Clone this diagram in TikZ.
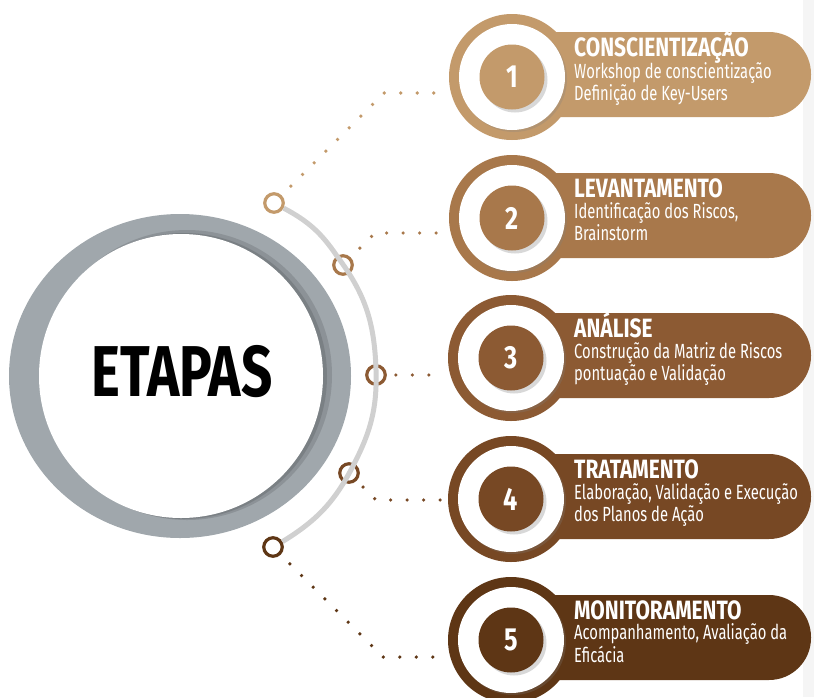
\documentclass[tikz,border=0pt]{standalone}
\usepackage{fontspec}
\setmainfont{Fira Sans}
\newfontfamily\etapasfont[FakeStretch=0.76]{Fira Sans}
\newfontfamily\titlefont[FakeStretch=0.79]{Fira Sans}
\newfontfamily\descfont[FakeStretch=0.72]{Fira Sans}
\usetikzlibrary{positioning,shadows}
\definecolor{etapaA}{HTML}{C39A6B}
\definecolor{etapaB}{HTML}{A8784B}
\definecolor{etapaC}{HTML}{8C5A33}
\definecolor{etapaD}{HTML}{774824}
\definecolor{etapaE}{HTML}{5E3615}
\definecolor{anel}{HTML}{A0A7AC}
\definecolor{trilho}{HTML}{D0D0D0}
\begin{document}
\begin{tikzpicture}[x=1pt, y=-1pt,
    outer/.style = {circle, minimum size=126pt, inner sep=0pt},
    ring/.style = {circle, fill=white, minimum size=106pt, inner sep=0pt, drop shadow={shadow xshift=2pt, shadow yshift=-2pt, opacity=0.25}},
    num/.style = {circle, minimum size=65pt, inner sep=0pt, text=white, font=\titlefont\bfseries\fontsize{32}{32}\selectfont, drop shadow={shadow xshift=3pt, shadow yshift=-3pt, opacity=0.3}},
    knot/.style = {circle, fill=white, line width=3.2pt, minimum size=18.5pt, inner sep=0pt},
    dots/.style = {line width=3.6pt, line cap=round, dash pattern=on 0pt off 16.5pt, shorten <=13pt},
    title/.style = {anchor=base west, inner sep=0pt, text=white, font=\titlefont\bfseries\fontsize{26.5}{26.5}\selectfont},
    desc/.style = {anchor=base west, inner sep=0pt, text=white, align=left, font=\descfont\fontsize{20.5}{20}\selectfont}]
    \useasboundingbox (0,0) rectangle (814,697);
    \fill[black!4] (803,0) rectangle (814,697);

    % grande circulo
    \fill[anel] (180,376) ellipse [x radius=171, y radius=162];
    \fill[black, opacity=0.12] (187,375) circle [radius=145];
    \fill[black, opacity=0.12] (184,376) circle [radius=143];
    \node[circle, fill=white, minimum size=284pt, inner sep=0pt] (centro) at (181,376) {};
    \node[font=\etapasfont\bfseries\fontsize{72}{72}\selectfont] (etapas) at (182,372) {ETAPAS};

    % trilho
    \node[knot, draw=etapaA] (s1) at (274,203) {};
    \node[knot, draw=etapaB] (s2) at (343,265) {};
    \node[knot, draw=etapaC] (s3) at (376,375) {};
    \node[knot, draw=etapaD] (s4) at (349,473) {};
    \node[knot, draw=etapaE] (s5) at (273,547) {};
    \draw[trilho, line width=5pt] (s1) to[bend left=14] (s2) to[bend left=17] (s3)
        to[bend left=15] (s4) to[bend left=16] (s5);

    \coordinate (k1) at (384,93);  \coordinate (e1) at (437,93);
    \coordinate (k2) at (375,233); \coordinate (e2) at (441,233);
    \coordinate (e3) at (445,375);
    \coordinate (k4) at (376,500); \coordinate (e4) at (441,500);
    \coordinate (k5) at (383,657); \coordinate (e5) at (438,657);
    \draw[dots, etapaA] (s1) -- (k1) -- (e1);
    \draw[dots, etapaB] (s2) -- (k2) -- (e2);
    \draw[dots, etapaC, shorten <=9pt] (s3) -- (e3);
    \draw[dots, etapaD, shorten <=9pt] (s4) -- (k4) -- (e4);
    \draw[dots, etapaE] (s5) -- (k5) -- (e5);

    % etapas
    \fill[etapaA, rounded corners=42pt] (500,32) rectangle (811,117);
    \node[outer, fill=etapaA] (c1) at (512,77) {};
    \node[ring] (w1) at (c1) {};
    \node[num, fill=etapaA] (n1) at (c1) {1};
    \node[title] (t1) at (574,56) {CONSCIENTIZAÇÃO};
    \node[desc] (d1) at (574,100) {Workshop de conscientização\\Definição de Key-Users};

    \fill[etapaB, rounded corners=42pt] (500,173) rectangle (811,258);
    \node[outer, fill=etapaB] (c2) at (512,218) {};
    \node[ring] (w2) at (c2) {};
    \node[num, fill=etapaB] (n2) at (c2) {2};
    \node[title] (t2) at (574,197) {LEVANTAMENTO};
    \node[desc] (d2) at (574,240) {Identificação dos Riscos,\\Brainstorm};

    \fill[etapaC, rounded corners=42pt] (500,313) rectangle (811,398);
    \node[outer, fill=etapaC] (c3) at (511,358) {};
    \node[ring] (w3) at (c3) {};
    \node[num, fill=etapaC] (n3) at (c3) {3};
    \node[title] (t3) at (574,337) {ANÁLISE};
    \node[desc] (d3) at (574,380) {Construção da Matriz de Riscos\\pontuação e Validação};

    \fill[etapaD, rounded corners=42pt] (500,454) rectangle (811,539);
    \node[outer, fill=etapaD] (c4) at (511,499) {};
    \node[ring] (w4) at (c4) {};
    \node[num, fill=etapaD] (n4) at (c4) {4};
    \node[title] (t4) at (574,478) {TRATAMENTO};
    \node[desc] (d4) at (574,521) {Elaboração, Validação e Execução\\dos Planos de Ação};

    \fill[etapaE, rounded corners=42pt] (500,595) rectangle (811,680);
    \node[outer, fill=etapaE] (c5) at (511,640) {};
    \node[ring] (w5) at (c5) {};
    \node[num, fill=etapaE] (n5) at (c5) {5};
    \node[title] (t5) at (574,619) {MONITORAMENTO};
    \node[desc] (d5) at (574,662) {Acompanhamento, Avaliação da\\Eficácia};
\end{tikzpicture}
\end{document}
